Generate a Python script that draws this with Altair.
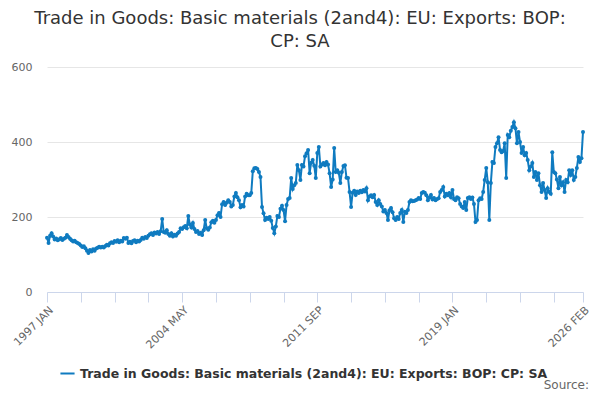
import altair as alt
import pandas as pd

# monthly values, 1997 JAN .. 2026 FEB
y1997 = [145, 131, 150, 157, 148, 140, 143, 138, 141, 144, 139, 142]
y1998 = [145, 152, 147, 142, 138, 135, 137, 133, 131, 128, 124, 120]
y1999 = [122, 117, 110, 104, 112, 108, 114, 110, 116, 118, 121, 119]
y2000 = [121, 119, 123, 126, 124, 130, 133, 131, 136, 134, 138, 133]
y2001 = [137, 135, 144, 142, 145, 131, 134, 130, 136, 138, 133, 137]
y2002 = [135, 139, 145, 142, 147, 144, 150, 154, 157, 152, 159, 156]
y2003 = [160, 155, 162, 195, 160, 158, 165, 155, 150, 157, 148, 153]
y2004 = [150, 156, 160, 170, 168, 173, 176, 170, 203, 180, 172, 184]
y2005 = [168, 160, 163, 155, 158, 152, 165, 192, 170, 166, 172, 186]
y2006 = [190, 185, 192, 205, 211, 200, 234, 240, 232, 238, 245, 240]
y2007 = [228, 232, 255, 264, 253, 245, 226, 232, 228, 255, 262, 258]
y2008 = [258, 264, 322, 330, 331, 328, 320, 307, 227, 210, 192, 198]
y2009 = [195, 200, 190, 171, 157, 175, 203, 200, 222, 230, 219, 189]
y2010 = [232, 248, 251, 304, 275, 285, 291, 339, 325, 299, 339, 335]
y2011 = [362, 370, 379, 317, 345, 352, 337, 304, 371, 387, 335, 340]
y2012 = [344, 338, 347, 340, 317, 280, 300, 384, 320, 325, 318, 291]
y2013 = [320, 336, 338, 305, 304, 267, 227, 265, 270, 259, 268, 264]
y2014 = [270, 266, 272, 268, 277, 245, 255, 258, 253, 259, 240, 232]
y2015 = [245, 235, 228, 215, 219, 211, 192, 218, 224, 213, 197, 192]
y2016 = [200, 195, 211, 219, 187, 214, 211, 219, 240, 245, 242, 243]
y2017 = [245, 247, 251, 248, 264, 267, 265, 258, 245, 252, 259, 247]
y2018 = [251, 245, 248, 250, 267, 272, 280, 255, 262, 258, 264, 253]
y2019 = [272, 248, 245, 253, 250, 235, 228, 224, 240, 219, 251, 253]
y2020 = [248, 252, 235, 187, 192, 245, 250, 248, 267, 299, 331, 293]
y2021 = [192, 291, 347, 344, 387, 397, 413, 379, 373, 376, 397, 304]
y2022 = [419, 413, 430, 440, 453, 437, 397, 427, 400, 371, 387, 365]
y2023 = [371, 352, 325, 335, 344, 307, 320, 299, 317, 285, 267, 291]
y2024 = [272, 251, 277, 267, 262, 373, 320, 317, 300, 277, 307, 285]
y2025 = [293, 267, 299, 293, 325, 312, 325, 299, 307, 331, 360, 347]
y2026 = [357, 427]

years = [y1997, y1998, y1999, y2000, y2001, y2002, y2003, y2004, y2005, y2006,
         y2007, y2008, y2009, y2010, y2011, y2012, y2013, y2014, y2015, y2016,
         y2017, y2018, y2019, y2020, y2021, y2022, y2023, y2024, y2025, y2026]
values = [v for yr in years for v in yr]

tick_months = [0, 22, 44, 66, 88, 110, 132, 154, 176, 198, 220, 242, 264, 286, 308, 330, 349]
tick_labels = {0: '1997 JAN', 88: '2004 MAY', 176: '2011 SEP', 264: '2019 JAN', 349: '2026 FEB'}

series_name = 'Trade in Goods: Basic materials (2and4): EU: Exports: BOP: CP: SA'

df = pd.DataFrame({
    'm': list(range(len(values))),
    'value': values,
    'series': series_name,
})

label_expr = ' : '.join(f"datum.value == {k} ? '{v}'" for k, v in tick_labels.items()) + " : ''"

font = 'DejaVu Sans'
blue = '#0f7bc0'

line = alt.Chart(df).mark_line(
    strokeWidth=2,
    point=alt.OverlayMarkDef(filled=True, size=16, color=blue, opacity=1),
).encode(
    alt.X('m:Q')
    .scale(domain=[0, 349], nice=False, zero=False)
    .axis(values=tick_months, labelExpr=label_expr, labelAngle=-45, grid=False,
          domainColor='#ccd6eb', tickColor='#ccd6eb', tickSize=10,
          labelColor='#666666', labelFontSize=11, labelFont=font, title=None,
          labelPadding=2, labelOverlap=False),
    alt.Y('value:Q')
    .scale(domain=[0, 600], nice=False)
    .axis(values=[0, 200, 400, 600], domain=False, ticks=False, gridColor='#e6e6e6',
          labelColor='#666666', labelFontSize=11, labelFont=font, title=None,
          labelPadding=15),
    alt.Color('series:N')
    .scale(range=[blue])
    .legend(orient='none', legendX=12, legendY=298, title=None, symbolType='stroke',
            symbolStrokeWidth=2, symbolSize=200, labelFontWeight='bold',
            labelFontSize=12.5, labelFont=font, labelColor='#333333', labelLimit=700),
)

source = alt.Chart(pd.DataFrame({'t': ['Source:']})).mark_text(
    align='right', baseline='bottom', fontSize=12, font=font, color='#666666'
).encode(
    x=alt.value(542), y=alt.value(325), text='t:N'
)

chart = alt.layer(line, source).properties(
    width=536,
    height=225,
    autosize=alt.AutoSizeParams(type='none'),
    padding={'left': 39, 'top': 59, 'right': 9, 'bottom': 100},
    title=alt.TitleParams(
        text=['Trade in Goods: Basic materials (2and4): EU: Exports: BOP:', 'CP: SA'],
        font=font, fontSize=18, fontWeight='normal', color='#333333',
        anchor='middle', dx=-15, offset=10, lineHeight=23,
    ),
).configure_view(stroke=None)

chart.save('out.html', embed_options={'renderer': 'svg', 'actions': False})
